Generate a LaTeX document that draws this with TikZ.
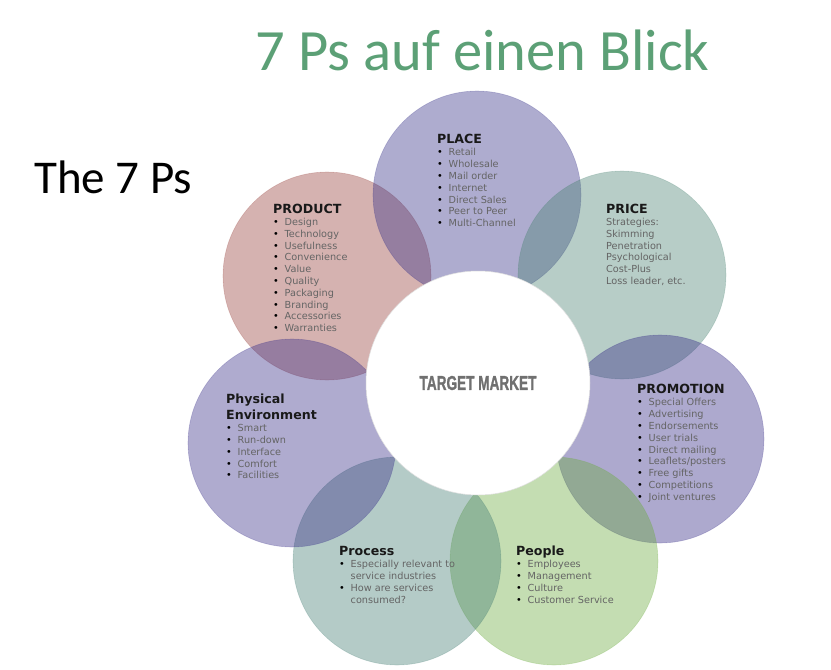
\documentclass[tikz,border=0pt]{standalone}
\usepackage{fontspec}
\usepackage{graphicx}
\setmainfont{DejaVu Sans}
\newfontfamily\titlefont{Carlito}
\newfontfamily\marketfont[FakeBold=1.5]{Liberation Sans}
\usetikzlibrary{positioning}

\definecolor{titlegreen}{RGB}{92,160,118}
\definecolor{placecol}{RGB}{53,48,135}
\definecolor{pricecol}{RGB}{75,130,115}
\definecolor{productcol}{RGB}{150,63,58}
\definecolor{physcol}{RGB}{55,45,135}
\definecolor{promocol}{RGB}{50,40,132}
\definecolor{processcol}{RGB}{68,125,115}
\definecolor{peoplecol}{RGB}{107,170,62}
\definecolor{headcol}{RGB}{25,25,25}
\definecolor{itemcol}{RGB}{100,100,100}
\definecolor{marketcol}{RGB}{112,112,112}

\newcommand{\pitem}[1]{\makebox[11.5pt][l]{\color{black}\textbullet}#1}
\newcommand{\pcont}[1]{\hspace*{11.5pt}#1}
\newcommand{\phead}[1]{{\color{headcol}\fontsize{12.6}{14}\selectfont\bfseries #1}}

\begin{document}
\begin{tikzpicture}[
  x=1pt, y=-1pt,
  pcircle/.style={circle,minimum size=208pt,inner sep=0pt,fill opacity=0.4,draw opacity=0.25,line width=0.6pt},
  ptext/.style={anchor=north west,inner sep=0pt,align=left,text=itemcol,font=\fontsize{9.7}{11.8}\selectfont},
  bigtext/.style={anchor=base west,inner sep=0pt,font=\titlefont}
]
\useasboundingbox (0,0) rectangle (831,670);

% the seven circles
\node[pcircle,fill=productcol,draw=productcol] (product) at (327,276) {};
\node[pcircle,fill=placecol,draw=placecol] (place) at (477,195) {};
\node[pcircle,fill=pricecol,draw=pricecol] (price) at (622,275) {};
\node[pcircle,fill=promocol,draw=promocol] (promotion) at (660,439) {};
\node[pcircle,fill=peoplecol,draw=peoplecol] (people) at (554,561) {};
\node[pcircle,fill=processcol,draw=processcol] (process) at (397,561) {};
\node[pcircle,fill=physcol,draw=physcol] (physical) at (292,443) {};

% centre
\node[circle,minimum size=224pt,inner sep=0pt,fill=white,draw=gray!25,line width=0.5pt,
  text=marketcol,font=\marketfont\bfseries\fontsize{20}{20}\selectfont] (market) at (478,383)
  {\scalebox{0.68}[1]{TARGET MARKET}};

% titles
\node[bigtext,text=titlegreen,font=\titlefont\fontsize{58.5}{60}\selectfont] (title) at (255,70) {7 Ps auf einen Blick};
\node[bigtext,text=black,font=\titlefont\fontsize{47}{50}\selectfont] (subtitle) at (34,193) {The 7 Ps};

% texts
\node[ptext] (placeTxt) at (437,133.8) {\phead{PLACE}\\[0.8pt]
  \pitem{Retail}\\ \pitem{Wholesale}\\ \pitem{Mail order}\\ \pitem{Internet}\\
  \pitem{Direct Sales}\\ \pitem{Peer to Peer}\\ \pitem{Multi-Channel}};
\node[ptext] (productTxt) at (273,203.8) {\phead{PRODUCT}\\[0.3pt]
  \pitem{Design}\\ \pitem{Technology}\\ \pitem{Usefulness}\\ \pitem{Convenience}\\
  \pitem{Value}\\ \pitem{Quality}\\ \pitem{Packaging}\\ \pitem{Branding}\\
  \pitem{Accessories}\\ \pitem{Warranties}};
\node[ptext] (priceTxt) at (606,203.8) {\phead{PRICE}\\[0.3pt]
  Strategies:\\ Skimming\\ Penetration\\ Psychological\\ Cost-Plus\\ Loss leader, etc.};
\node[ptext] (physTxt) at (226,393.5) {\phead{Physical}\\[2.5pt] \phead{Environment}\\[0.8pt]
  \pitem{Smart}\\ \pitem{Run-down}\\ \pitem{Interface}\\ \pitem{Comfort}\\ \pitem{Facilities}};
\node[ptext] (promoTxt) at (637,383.8) {\phead{PROMOTION}\\[0.8pt]
  \pitem{Special Offers}\\ \pitem{Advertising}\\ \pitem{Endorsements}\\ \pitem{User trials}\\
  \pitem{Direct mailing}\\ \pitem{Leaflets/posters}\\ \pitem{Free gifts}\\
  \pitem{Competitions}\\ \pitem{Joint ventures}};
\node[ptext] (processTxt) at (339,545.8) {\phead{Process}\\[0.8pt]
  \pitem{Especially relevant to}\\ \pcont{service industries}\\
  \pitem{How are services}\\ \pcont{consumed?}};
\node[ptext] (peopleTxt) at (516,545.5) {\phead{People}\\[0.8pt]
  \pitem{Employees}\\ \pitem{Management}\\ \pitem{Culture}\\ \pitem{Customer Service}};
\end{tikzpicture}
\end{document}
